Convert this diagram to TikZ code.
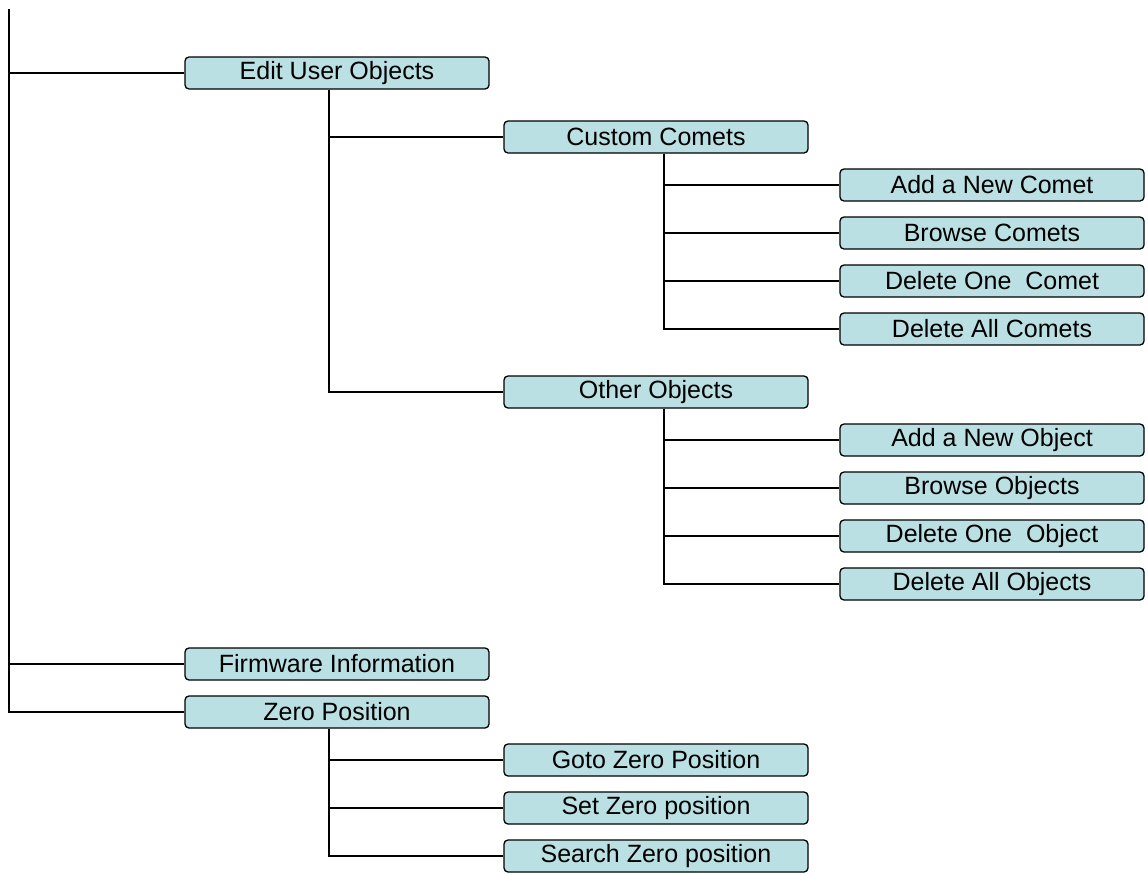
\documentclass[tikz,border=0pt]{standalone}
\usepackage{fontspec}
\setmainfont{Liberation Sans}
\usetikzlibrary{positioning}

\definecolor{boxfill}{RGB}{187,224,227}

\begin{document}
\begin{tikzpicture}[x=1pt, y=-1pt, line width=1.3pt, node distance=48pt]
	\tikzstyle{menu}=[draw=black,fill=boxfill,rounded corners=4pt,minimum width=304pt,minimum height=32pt,inner sep=0pt,font=\fontsize{25}{28}\selectfont]
	\useasboundingbox (0,0) rectangle (1148,873);
	\coordinate (top) at (9,9);
	% first level
	\node[menu] (edit)   at (337,73)  {Edit User Objects};
	\node[menu] (firm)   at (337,664) {Firmware Information};
	\node[menu] (zero)   at (337,712) {Zero Position};
	% second level
	\node[menu] (comets) at (656,137) {Custom Comets};
	\node[menu] (others) at (656,392) {Other Objects};
	\node[menu] (gotoz)  at (656,760) {Goto Zero Position};
	\node[menu] (setz)   [below of=gotoz]  {Set Zero position};
	\node[menu] (searchz)[below of=setz]   {Search Zero position};
	% third level
	\node[menu] (addc)   at (992,185) {Add a New Comet};
	\node[menu] (browc)  [below of=addc]  {Browse Comets};
	\node[menu] (delonec)[below of=browc] {Delete One\ \ Comet};
	\node[menu] (delallc)[below of=delonec] {Delete All Comets};
	\node[menu] (addo)   at (992,440) {Add a New Object};
	\node[menu] (browo)  [below of=addo]  {Browse Objects};
	\node[menu] (deloneo)[below of=browo] {Delete One\ \ Object};
	\node[menu] (delallo)[below of=deloneo] {Delete All Objects};
	% connectors
	\foreach \n in {edit,firm,zero}
		\draw (top) |- (\n.west);
	\foreach \n in {comets,others}
		\draw ([xshift=-8pt]edit.south) |- (\n.west);
	\foreach \n in {gotoz,setz,searchz}
		\draw ([xshift=-8pt]zero.south) |- (\n.west);
	\foreach \n in {addc,browc,delonec,delallc}
		\draw ([xshift=8pt]comets.south) |- (\n.west);
	\foreach \n in {addo,browo,deloneo,delallo}
		\draw ([xshift=8pt]others.south) |- (\n.west);
\end{tikzpicture}
\end{document}
